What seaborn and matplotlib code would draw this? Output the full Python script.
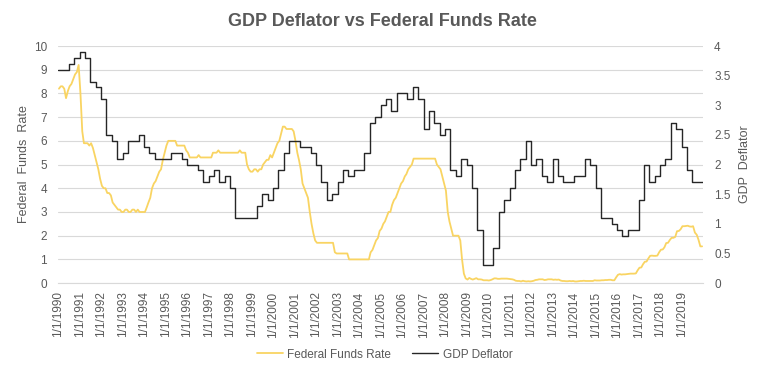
import pandas as pd
import seaborn as sns
import matplotlib.pyplot as plt
import matplotlib.dates as mdates

# GDP deflator, quarterly 1990Q1 .. 2019Q4
gdp_deflator = [
    3.6, 3.6, 3.7, 3.8,   3.9, 3.8, 3.4, 3.3,   3.1, 2.5, 2.4, 2.1,
    2.2, 2.4, 2.4, 2.5,   2.3, 2.2, 2.1, 2.1,   2.1, 2.2, 2.2, 2.1,
    2.0, 2.0, 1.9, 1.7,   1.8, 1.9, 1.7, 1.8,   1.6, 1.1, 1.1, 1.1,
    1.1, 1.3, 1.5, 1.4,   1.6, 1.9, 2.2, 2.4,   2.4, 2.3, 2.3, 2.2,
    2.0, 1.7, 1.4, 1.5,   1.7, 1.9, 1.8, 1.9,   1.9, 2.2, 2.7, 2.8,
    3.0, 3.1, 2.9, 3.2,   3.2, 3.1, 3.3, 3.1,   2.6, 2.9, 2.7, 2.5,
    2.6, 1.9, 1.8, 2.1,   2.0, 1.6, 0.9, 0.3,   0.3, 0.6, 1.2, 1.4,
    1.6, 1.9, 2.1, 2.4,   2.0, 2.1, 1.8, 1.7,   2.1, 1.8, 1.7, 1.7,
    1.8, 1.8, 2.1, 2.0,   1.6, 1.1, 1.1, 1.0,   0.9, 0.8, 0.9, 0.9,
    1.4, 2.0, 1.7, 1.8,   2.0, 2.1, 2.7, 2.6,   2.3, 1.9, 1.7, 1.7,
]

# Federal funds rate, monthly 1990-01 .. 2019-12
fed_funds = [
    8.2, 8.3, 8.3, 8.2, 7.8, 8.1, 8.3, 8.4, 8.6, 8.8, 8.9, 9.2,  # 1990
    8.0, 6.4, 5.9, 5.9, 5.9, 5.8, 5.9, 5.7, 5.4, 5.1, 4.8, 4.4,  # 1991
    4.1, 4.0, 4.0, 3.8, 3.8, 3.7, 3.4, 3.3, 3.2, 3.1, 3.1, 3.0,  # 1992
    3.0, 3.1, 3.1, 3.0, 3.0, 3.1, 3.1, 3.0, 3.1, 3.0, 3.0, 3.0,  # 1993
    3.0, 3.2, 3.4, 3.6, 4.0, 4.2, 4.3, 4.5, 4.7, 4.8, 5.2, 5.5,  # 1994
    5.8, 6.0, 6.0, 6.0, 6.0, 6.0, 5.8, 5.8, 5.8, 5.8, 5.8, 5.6,  # 1995
    5.5, 5.3, 5.3, 5.3, 5.3, 5.3, 5.4, 5.3, 5.3, 5.3, 5.3, 5.3,  # 1996
    5.3, 5.3, 5.5, 5.5, 5.5, 5.6, 5.5, 5.5, 5.5, 5.5, 5.5, 5.5,  # 1997
    5.5, 5.5, 5.5, 5.5, 5.5, 5.6, 5.5, 5.5, 5.5, 5.0, 4.8, 4.7,  # 1998
    4.7, 4.8, 4.8, 4.7, 4.8, 4.8, 5.0, 5.1, 5.2, 5.2, 5.4, 5.3,  # 1999
    5.5, 5.7, 5.9, 6.0, 6.3, 6.6, 6.6, 6.5, 6.5, 6.5, 6.5, 6.4,  # 2000
    6.0, 5.5, 5.2, 4.8, 4.2, 4.0, 3.8, 3.6, 3.0, 2.5, 2.1, 1.8,  # 2001
    1.7, 1.7, 1.7, 1.7, 1.7, 1.7, 1.7, 1.7, 1.7, 1.7, 1.3, 1.25,  # 2002
    1.25, 1.25, 1.25, 1.25, 1.25, 1.25, 1.0, 1.0, 1.0, 1.0, 1.0, 1.0,  # 2003
    1.0, 1.0, 1.0, 1.0, 1.0, 1.0, 1.3, 1.4, 1.6, 1.8, 1.9, 2.2,  # 2004
    2.3, 2.5, 2.6, 2.8, 3.0, 3.0, 3.3, 3.5, 3.6, 3.8, 4.0, 4.2,  # 2005
    4.3, 4.5, 4.6, 4.8, 4.9, 5.0, 5.25, 5.25, 5.25, 5.25, 5.25, 5.25,  # 2006
    5.25, 5.25, 5.25, 5.25, 5.25, 5.25, 5.25, 5.0, 4.9, 4.8, 4.5, 4.2,  # 2007
    3.9, 3.0, 2.6, 2.3, 2.0, 2.0, 2.0, 2.0, 1.8, 1.0, 0.4, 0.2,  # 2008
    0.15, 0.22, 0.18, 0.15, 0.18, 0.21, 0.16, 0.16, 0.15, 0.12, 0.12, 0.12,  # 2009
    0.11, 0.13, 0.16, 0.20, 0.20, 0.18, 0.18, 0.19, 0.19, 0.19, 0.19, 0.18,  # 2010
    0.17, 0.16, 0.14, 0.10, 0.09, 0.09, 0.07, 0.10, 0.08, 0.07, 0.08, 0.07,  # 2011
    0.08, 0.10, 0.13, 0.14, 0.16, 0.16, 0.16, 0.13, 0.14, 0.16, 0.16, 0.16,  # 2012
    0.14, 0.15, 0.14, 0.15, 0.11, 0.09, 0.09, 0.08, 0.08, 0.09, 0.08, 0.09,  # 2013
    0.07, 0.07, 0.08, 0.09, 0.09, 0.10, 0.09, 0.09, 0.09, 0.09, 0.09, 0.12,  # 2014
    0.11, 0.11, 0.11, 0.12, 0.12, 0.13, 0.13, 0.14, 0.14, 0.12, 0.12, 0.24,  # 2015
    0.35, 0.38, 0.36, 0.37, 0.37, 0.38, 0.39, 0.40, 0.40, 0.40, 0.41, 0.54,  # 2016
    0.65, 0.66, 0.79, 0.90, 0.91, 1.04, 1.15, 1.16, 1.15, 1.15, 1.16, 1.30,  # 2017
    1.41, 1.42, 1.51, 1.69, 1.70, 1.82, 1.91, 1.91, 1.95, 2.19, 2.20, 2.27,  # 2018
    2.40, 2.40, 2.41, 2.42, 2.39, 2.38, 2.40, 2.13, 2.04, 1.83, 1.55, 1.55,  # 2019
]

start, end = pd.Timestamp("1990-01-01"), pd.Timestamp("2019-12-31")

# quarterly steps; repeat the last value so the step runs to the end of 2019
gdp_dates = list(pd.date_range(start, periods=len(gdp_deflator), freq="QS")) + [end]
gdp_vals = gdp_deflator + [gdp_deflator[-1]]
ff_dates = pd.date_range(start, periods=len(fed_funds), freq="MS") + pd.Timedelta(days=14)

sns.set_style("white")
plt.rcParams['font.family'] = ['Liberation Sans', 'DejaVu Sans']
text_col = "#595959"
grid_col = "#D9D9D9"
yellow = "#F9D462"
black = "#262626"

fig, ax = plt.subplots(figsize=(7.65, 3.74), dpi=100)
fig.subplots_adjust(left=0.076, right=0.919, top=0.877, bottom=0.243)
ax2 = ax.twinx()

sns.lineplot(x=ff_dates, y=fed_funds, ax=ax, color=yellow, lw=1.3,
             label="Federal Funds Rate", legend=False)
sns.lineplot(x=gdp_dates, y=gdp_vals, ax=ax2, color=black, lw=1.0,
             drawstyle="steps-post", label="GDP Deflator", legend=False)

ax.set_xlim(start, end)
ax.set_ylim(0, 10)
ax.set_yticks(range(0, 11))
ax2.set_ylim(0, 4)
ax2.set_yticks([0, 0.5, 1, 1.5, 2, 2.5, 3, 3.5, 4])
ax2.set_yticklabels(["0", "0.5", "1", "1.5", "2", "2.5", "3", "3.5", "4"])

ax.yaxis.grid(True, color=grid_col, lw=0.8)
ax.set_axisbelow(True)
ax2.grid(False)

ax.xaxis.set_major_locator(mdates.YearLocator())
ax.xaxis.set_major_formatter(mdates.DateFormatter("1/1/%Y"))
plt.setp(ax.get_xticklabels(), rotation=90)

for a in (ax, ax2):
    for s in ("top", "left", "right"):
        a.spines[s].set_visible(False)
    a.spines["bottom"].set_color(grid_col)
ax2.spines["bottom"].set_visible(False)

ax.tick_params(axis="x", length=4, width=0.8, color=grid_col, labelsize=8.5, labelcolor=text_col, pad=2)
ax.tick_params(axis="y", length=0, labelsize=8.5, labelcolor=text_col, pad=8)
ax2.tick_params(axis="y", length=0, labelsize=8.5, labelcolor=text_col, pad=8)

ax.set_xlabel("")
ax.set_ylabel("Federal  Funds  Rate", fontsize=9, color=text_col, labelpad=3)
ax2.set_ylabel("GDP  Deflator", fontsize=9, color=text_col, labelpad=6)

fig.suptitle("GDP Deflator vs Federal Funds Rate", fontsize=13, fontweight="bold",
             color=text_col, y=0.965)

handles = ax.get_lines()[:1] + ax2.get_lines()[:1]
fig.legend(handles, [h.get_label() for h in handles], loc="center", ncol=2,
           bbox_to_anchor=(0.503, 0.052), frameon=False, fontsize=8.5,
           labelcolor=text_col, handlelength=2.2, handletextpad=0.4,
           columnspacing=1.8)

fig.savefig("out.png", dpi=100)
